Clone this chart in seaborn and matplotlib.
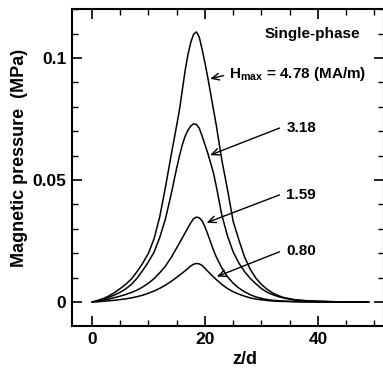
import numpy as np
import pandas as pd
import seaborn as sns
import matplotlib
matplotlib.use('Agg')
from matplotlib import pyplot as plt
from matplotlib.ticker import MultipleLocator

# Axial position z/d
z = [0, 1, 2, 3, 4, 5, 6, 7, 8, 9, 10, 11, 12, 13, 14, 15,
     15.5, 16, 16.5, 17, 17.5, 18, 18.5, 19, 19.5, 20, 20.5, 21, 21.5, 22,
     23, 24, 25, 26, 27, 28, 29, 30, 31, 32, 33, 34,
     36, 38, 40, 43, 46, 49]

# Magnetic pressure (MPa) for each Hmax
p_478 = [0, 0.0006, 0.0014, 0.0025, 0.0039, 0.0055, 0.0073, 0.0095, 0.0125, 0.016, 0.020,
         0.026, 0.035, 0.047, 0.060, 0.0725,
         0.079, 0.087, 0.095, 0.1015, 0.1065, 0.1098, 0.1107, 0.1085, 0.1035, 0.098, 0.092,
         0.0855, 0.079, 0.0725,
         0.058, 0.046, 0.033, 0.0255, 0.0185, 0.0135, 0.0098, 0.0072, 0.0052, 0.0037, 0.0026, 0.0018,
         0.0009, 0.0005, 0.0003, 0.0001, 0.0, 0.0]
p_318 = [0, 0.0005, 0.0011, 0.0019, 0.0029, 0.004, 0.0054, 0.0073, 0.0098, 0.013, 0.0165,
         0.0205, 0.0265, 0.034, 0.044, 0.055,
         0.060, 0.0645, 0.068, 0.0705, 0.0722, 0.073, 0.0728, 0.0712, 0.068, 0.0645, 0.061,
         0.057, 0.053, 0.0475,
         0.0355, 0.027, 0.0205, 0.016, 0.0125, 0.0097, 0.0075, 0.0055, 0.004, 0.003, 0.0022, 0.0016,
         0.0008, 0.0005, 0.0003, 0.0001, 0.0, 0.0]
p_159 = [0, 0.0003, 0.0007, 0.0012, 0.0018, 0.0024, 0.0031, 0.0039, 0.0049, 0.0062, 0.0077,
         0.0096, 0.012, 0.0147, 0.0182, 0.0222,
         0.0242, 0.0263, 0.0284, 0.0305, 0.0325, 0.0342, 0.0348, 0.0345, 0.0333, 0.0308, 0.0278,
         0.0245, 0.0213, 0.0185,
         0.0139, 0.0103, 0.0077, 0.0057, 0.0042, 0.003, 0.0021, 0.0015, 0.001, 0.0007, 0.0005, 0.0004,
         0.0002, 0.0001, 0.0, 0.0, 0.0, 0.0]
p_080 = [0, 0.0001, 0.0003, 0.0005, 0.0007, 0.001, 0.0013, 0.0017, 0.0022, 0.0028, 0.0036,
         0.0045, 0.0056, 0.0069, 0.0084, 0.0101,
         0.011, 0.0119, 0.0128, 0.0138, 0.0148, 0.0155, 0.0158, 0.0156, 0.015, 0.0138, 0.0126,
         0.0114, 0.0103, 0.0092,
         0.0072, 0.0055, 0.0042, 0.0032, 0.0024, 0.0017, 0.0012, 0.0009, 0.0006, 0.0004, 0.0003, 0.0002,
         0.0001, 0.0, 0.0, 0.0, 0.0, 0.0]

hmax_labels = ['4.78', '3.18', '1.59', '0.80']
# label text position and arrow ends (data coords)
label_text = [r'H$_{\rm max}$ = 4.78 (MA/m)', '3.18', '1.59', '0.80']
label_xy = [(24.3, 0.0935), (34.4, 0.0715), (34.4, 0.0440), (34.4, 0.0208)]
arrow_tail = [(23.3, 0.0928), (33.2, 0.0713), (33.2, 0.0439), (33.2, 0.0206)]
arrow_head = [(20.9, 0.0915), (20.9, 0.0602), (20.3, 0.0325), (22.1, 0.0104)]

df = pd.concat([pd.DataFrame({'z': z, 'p': p, 'H': h})
                for p, h in zip([p_478, p_318, p_159, p_080], hmax_labels)])

sns.set_theme(style='ticks')
plt.rcParams['font.family'] = ['Liberation Sans', 'DejaVu Sans']
plt.rcParams['font.weight'] = 'bold'
plt.rcParams['mathtext.fontset'] = 'custom'
plt.rcParams['mathtext.rm'] = 'Liberation Sans:bold'
for k in ['text.color', 'axes.labelcolor', 'xtick.color', 'ytick.color']:
    plt.rcParams[k] = 'black'

fig = plt.figure(figsize=(3.83, 3.71), dpi=100)
ax = fig.add_axes([0.188, 0.1213, 0.8146, 0.8544])

sns.lineplot(data=df, x='z', y='p', units='H', estimator=None, color='black',
             lw=1.1, ax=ax, legend=False, sort=False)

for txt, (tx, ty), tail, head in zip(label_text, label_xy, arrow_tail, arrow_head):
    ax.text(tx, ty, txt, fontsize=11, fontweight='bold', va='center', ha='left')
    ax.annotate('', xy=head, xytext=tail,
                arrowprops=dict(arrowstyle='->,head_length=0.45,head_width=0.2',
                                lw=1.0, color='black', shrinkA=0, shrinkB=0))

ax.text(30.6, 0.1098, 'Single-phase', fontsize=11, fontweight='bold', va='center', ha='left')

ax.set_xlim(-3.54, 51.7)
ax.set_ylim(-0.00984, 0.1201)
ax.xaxis.set_minor_locator(MultipleLocator(5))
ax.yaxis.set_minor_locator(MultipleLocator(0.01))
ax.set_yticks([0, 0.05, 0.1])
ax.set_yticklabels(['0', '0.05', '0.1'])
ax.set_xticks([0, 20, 40])
ax.set_xticklabels(['0', '20', '40'])

ax.tick_params(which='major', direction='in', length=7, width=1.2, top=True, right=True,
               labelsize=12.5, pad=4)
ax.tick_params(which='minor', direction='in', length=4, width=1.0, top=True, right=True)
for s in ax.spines.values():
    s.set_linewidth(1.5)
    s.set_color('black')

ax.set_xlabel('z/d', fontsize=13, fontweight='bold')
ax.set_ylabel('Magnetic pressure  (MPa)', fontsize=13, fontweight='bold')
ax.xaxis.set_label_coords(0.553, -0.078)
ax.yaxis.set_label_coords(-0.141, 0.53)

fig.savefig('out.png', dpi=100)
